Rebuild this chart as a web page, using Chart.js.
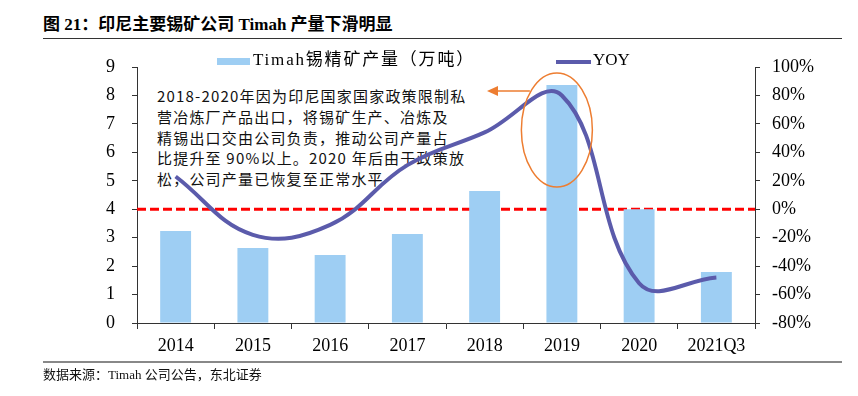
<!DOCTYPE html>
<html>
<head>
<meta charset="utf-8">
<script src="https://cdn.jsdelivr.net/npm/chart.js@4/dist/chart.umd.min.js"></script>
<style>
  body { margin: 0; background: #fff; }
  #wrap { position: relative; width: 858px; height: 396px; overflow: hidden; }
  #title { position: absolute; left: 43px; top: 10px; font: bold 17px "Liberation Serif", "Noto Sans CJK SC", serif; color: #000; white-space: nowrap; }
  #topRule { position: absolute; left: 43px; top: 38px; width: 799px; border-top: 1px solid #333; }
  #bottomRule { position: absolute; left: 43px; top: 361px; width: 799px; border-top: 2px solid #888; }
  #source { position: absolute; left: 43px; top: 364px; font: 13px "Liberation Serif", "Noto Sans CJK SC", serif; color: #111; white-space: nowrap; }
  #note { position: absolute; left: 157px; top: 86px; font: 15px "Noto Sans CJK SC", sans-serif; line-height: 20.75px; letter-spacing: 1.2px; color: #111; white-space: nowrap; }
  canvas { position: absolute; left: 0; top: 0; }
</style>
</head>
<body>
<div id="wrap">
  <div id="title">图 21：印尼主要锡矿公司 Timah 产量下滑明显</div>
  <div id="topRule"></div>
  <div id="note">2018-2020年因为印尼国家国家政策限制私<br>营冶炼厂产品出口，将锡矿生产、冶炼及<br>精锡出口交由公司负责，推动公司产量占<br>比提升至 90%以上。2020 年后由于政策放<br>松，公司产量已恢复至正常水平</div>
  <canvas id="chart" width="858" height="396"></canvas>
  <div id="bottomRule"></div>
  <div id="source">数据来源：Timah 公司公告，东北证券</div>
</div>
<script>
var years = ['2014', '2015', '2016', '2017', '2018', '2019', '2020', '2021Q3'];
var output = [3.23, 2.64, 2.39, 3.13, 4.64, 8.37, 4.0, 1.79];
var yoy = [23, -18, -11, 31, 54, 80, -52, -48];
var leftTicks = [0, 9, 1];
var rightTicks = [-80, 100, 20];

var serif = 'Liberation Serif';

// red zero line, orange circle + arrow, custom legend
var extras = {
  id: 'extras',
  beforeDatasetsDraw: function (chart) {
    var ctx = chart.ctx, a = chart.chartArea;
    var y0 = chart.scales.y1.getPixelForValue(0);
    ctx.save();
    ctx.strokeStyle = '#ff0000';
    ctx.lineWidth = 3;
    ctx.setLineDash([9, 4]);
    ctx.beginPath();
    ctx.moveTo(a.left, y0);
    ctx.lineTo(a.right, y0);
    ctx.stroke();
    ctx.restore();
  },
  afterDatasetsDraw: function (chart) {
    var ctx = chart.ctx;
    var cx = chart.scales.x.getPixelForValue(5) - 5;
    ctx.save();
    ctx.strokeStyle = '#ed7d31';
    ctx.lineWidth = 1.5;
    ctx.beginPath();
    ctx.ellipse(cx, 130, 35.5, 57, 0, 0, Math.PI * 2);
    ctx.stroke();
    // arrow
    ctx.beginPath();
    ctx.moveTo(cx - 27, 91);
    ctx.lineTo(496, 91);
    ctx.stroke();
    ctx.fillStyle = '#ed7d31';
    ctx.beginPath();
    ctx.moveTo(487, 91);
    ctx.lineTo(498, 86);
    ctx.lineTo(498, 96);
    ctx.closePath();
    ctx.fill();

    // legend
    var line = chart.data.datasets[0], bar = chart.data.datasets[1];
    ctx.font = '17px "' + serif + '", "Noto Sans CJK SC"';
    ctx.textBaseline = 'middle';
    ctx.fillStyle = bar.backgroundColor;
    ctx.fillRect(217, 58, 33, 7);
    ctx.fillStyle = '#000';
    ctx.letterSpacing = '1.8px';
    ctx.fillText(bar.label, 253, 61);
    ctx.letterSpacing = '0px';
    ctx.strokeStyle = line.borderColor;
    ctx.lineWidth = 4;
    ctx.beginPath();
    ctx.moveTo(556, 62);
    ctx.lineTo(591, 62);
    ctx.stroke();
    ctx.fillText(line.label, 593, 61);
    ctx.restore();
  }
};

var ctx = document.getElementById('chart').getContext('2d');
var chart = new Chart(ctx, {
  type: 'bar',
  data: {
    labels: years,
    datasets: [{
      type: 'line',
      label: 'YOY',
      data: yoy,
      yAxisID: 'y1',
      borderColor: '#5b5bab',
      borderWidth: 4,
      tension: 0.4,
      pointRadius: 0,
      fill: false,
      order: 0
    }, {
      label: 'Timah锡精矿产量（万吨）',
      data: output,
      yAxisID: 'y',
      backgroundColor: '#9ecef3',
      barPercentage: 0.4,
      categoryPercentage: 1,
      order: 1
    }]
  },
  options: {
    responsive: false,
    animation: false,
    layout: { padding: { top: 67, left: 0, right: 0, bottom: 0 } },
    plugins: { legend: { display: false }, tooltip: { enabled: false } },
    scales: {
      x: {
        afterFit: function (s) { s.height = 73; },
        grid: { drawOnChartArea: false, tickLength: 6, color: '#333', offset: true },
        border: { color: '#333' },
        ticks: { color: '#000', font: { family: serif, size: 18 }, padding: 6 }
      },
      y: {
        position: 'left',
        min: leftTicks[0], max: leftTicks[1],
        afterFit: function (s) { s.width = 137; },
        grid: { drawOnChartArea: false, tickLength: 5, color: '#333' },
        border: { color: '#333' },
        ticks: { stepSize: leftTicks[2], color: '#000', font: { family: serif, size: 18 }, padding: 17 }
      },
      y1: {
        position: 'right',
        min: rightTicks[0], max: rightTicks[1],
        afterFit: function (s) { s.width = 103; },
        grid: { drawOnChartArea: false, tickLength: 5, color: '#333' },
        border: { color: '#333' },
        ticks: { stepSize: rightTicks[2], color: '#000', font: { family: serif, size: 18 }, padding: 12,
          callback: function (v) { return v + '%'; } }
      }
    }
  },
  plugins: [extras]
});
</script>
</body>
</html>
